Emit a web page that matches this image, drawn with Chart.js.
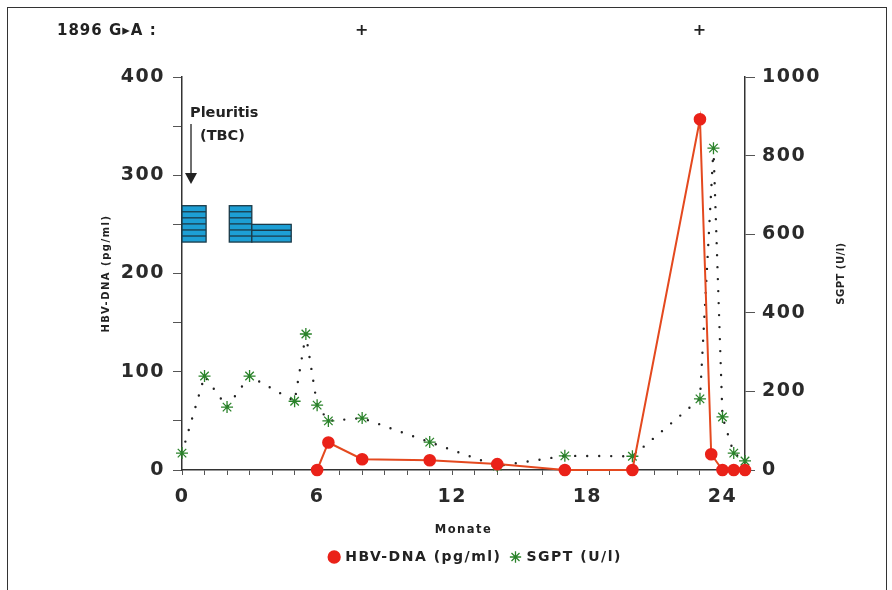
<!DOCTYPE html>
<html><head><meta charset="utf-8">
<script src="https://cdn.jsdelivr.net/npm/chart.js@4"></script>
<style>
html,body{margin:0;padding:0;background:#fff;}
#wrap{position:relative;width:892px;height:590px;overflow:hidden;}
#frame{position:absolute;left:7px;top:7px;width:880px;height:610px;border:1.5px solid #333;box-sizing:border-box;pointer-events:none;}
canvas{position:absolute;left:0;top:0;}
</style></head><body>
<div id="wrap"><canvas id="c" width="892" height="590"></canvas><div id="frame"></div></div>
<script>
// ---- data ----
const hbvMonths = [6, 6.5, 8, 11, 14, 17, 20, 23, 23.5, 24, 24.5, 25];
const hbvValues = [0, 28, 11, 10, 6, 0, 0, 357, 16, 0, 0, 0];
const sgptMonths = [0, 1, 2, 3, 5, 5.5, 6, 6.5, 8, 11, 14, 17, 20, 23, 23.6, 24, 24.5, 25];
const sgptValues = [43, 239, 160, 239, 175, 346, 165, 125, 132, 71, 10, 36, 35, 181, 819, 135, 43, 23];
const xTickLabels = [0, 6, 12, 18, 24];
const leftTickLabels = [0, 100, 200, 300, 400];
const rightTickLabels = [0, 200, 400, 600, 800, 1000];
const plusMonths = [8, 23];
const mutationLabel = '1896 G\u25B8A :';
const treatStart = [0, 2.1, 3.1];
const treatEnd = [1.07, 3.1, 4.85];
const treatHigh = [269, 269, 250];
const treatLow = [232, 232, 232];
const pleuritisMonth = 0.4;
const pleuritisTip = 291;
const pleuritisLines = ['Pleuritis', '(TBC)'];

const FONT = '"DejaVu Sans", sans-serif';

const annot = {
  id: 'annot',
  beforeUpdate(chart){ chart.ctx.letterSpacing = '1.5px'; },
  beforeDraw(chart){ chart.ctx.letterSpacing = '1.5px'; },
  beforeDatasetsDraw(chart){
    const ctx = chart.ctx, xs = chart.scales.x, ys = chart.scales.y;
    ctx.save();
    for (let i = 0; i < treatStart.length; i++) {
      const x0 = xs.getPixelForValue(treatStart[i]), x1 = xs.getPixelForValue(treatEnd[i]);
      const y0 = ys.getPixelForValue(treatHigh[i]), y1 = ys.getPixelForValue(treatLow[i]);
      ctx.fillStyle = '#1d9fd5';
      ctx.fillRect(x0, y0, x1 - x0, y1 - y0);
      ctx.strokeStyle = '#1b3a48';
      ctx.lineWidth = 1.3;
      const n = Math.round((y1 - y0) / 6);
      for (let k = 1; k < n; k++) {
        const yy = y0 + (y1 - y0) * k / n;
        ctx.beginPath(); ctx.moveTo(x0, yy); ctx.lineTo(x1, yy); ctx.stroke();
      }
      ctx.strokeRect(x0, y0, x1 - x0, y1 - y0);
    }
    ctx.restore();
  },
  afterDraw(chart){
    const ctx = chart.ctx, xs = chart.scales.x, ys = chart.scales.y, ca = chart.chartArea;
    ctx.save();
    ctx.letterSpacing = '1px';
    ctx.fillStyle = '#222';
    ctx.textBaseline = 'middle';
    ctx.textAlign = 'left';
    ctx.font = 'bold 15px ' + FONT;
    ctx.fillText(mutationLabel, 57, 31);
    ctx.textAlign = 'center';
    ctx.font = 'bold 16px ' + FONT;
    plusMonths.forEach(m => ctx.fillText('+', xs.getPixelForValue(m), 31));
    // pleuritis annotation
    ctx.letterSpacing = '0px';
    const ax = xs.getPixelForValue(pleuritisMonth);
    const tip = ys.getPixelForValue(pleuritisTip);
    ctx.font = 'bold 14.5px ' + FONT;
    ctx.textAlign = 'left';
    ctx.fillText(pleuritisLines[0], ax - 1, tip - 71);
    ctx.fillText(pleuritisLines[1], ax + 9, tip - 48);
    ctx.strokeStyle = '#222'; ctx.lineWidth = 1.3;
    ctx.beginPath(); ctx.moveTo(ax, tip - 60); ctx.lineTo(ax, tip - 8); ctx.stroke();
    ctx.beginPath(); ctx.moveTo(ax - 6, tip - 11); ctx.lineTo(ax + 6, tip - 11); ctx.lineTo(ax, tip); ctx.closePath(); ctx.fill();
    // right axis title (reads upward)
    ctx.letterSpacing = '0.5px';
    ctx.font = 'bold 10px ' + FONT;
    ctx.translate(841, (ca.top + ca.bottom) / 2);
    ctx.rotate(-Math.PI / 2);
    ctx.textAlign = 'center';
    ctx.fillText('SGPT (U/l)', 0, 0);
    ctx.restore();
  }
};

new Chart(document.getElementById('c'), {
  type: 'line',
  data: {
    datasets: [
      {
        label: 'HBV-DNA (pg/ml)',
        data: hbvMonths.map((m, i) => ({x: m, y: hbvValues[i]})),
        yAxisID: 'y',
        borderColor: '#e4491f',
        borderWidth: 2,
        pointStyle: 'circle',
        pointRadius: 5.3,
        pointBackgroundColor: '#ea2219',
        pointBorderColor: '#ea2219',
        tension: 0,
        clip: false
      },
      {
        label: 'SGPT (U/l)',
        data: sgptMonths.map((m, i) => ({x: m, y: sgptValues[i]})),
        yAxisID: 'y1',
        borderColor: '#222',
        borderWidth: 2.4,
        borderDash: [0, 12],
        borderCapStyle: 'round',
        pointStyle: 'star',
        pointRadius: 6,
        pointBorderWidth: 1.3,
        pointBorderColor: '#2a832a',
        pointBackgroundColor: '#2a832a',
        tension: 0,
        clip: false
      }
    ]
  },
  options: {
    responsive: false,
    animation: false,
    events: [],
    layout: { padding: { left: 100, right: 40, top: 77, bottom: 16 } },
    plugins: {
      tooltip: { enabled: false },
      legend: {
        position: 'bottom',
        labels: {
          usePointStyle: true,
          boxWidth: 8, boxHeight: 8,
          padding: 10,
          color: '#222',
          font: { family: FONT, size: 14, weight: 'bold' }
        }
      }
    },
    scales: {
      x: {
        type: 'linear', min: 0, max: 25,
        afterFit(s){ s.height = 70; },
        ticks: {
          stepSize: 1, autoSkip: false, maxRotation: 0, padding: 11,
          color: '#2a2a2a',
          font: { family: FONT, size: 19, weight: 'bold' },
          callback: v => xTickLabels.includes(v) ? String(v) : ''
        },
        grid: { drawOnChartArea: false, drawTicks: true, tickLength: 5, color: '#555' },
        border: { display: true, color: '#333', width: 1.5 },
        title: { display: true, text: 'Monate', color: '#222', padding: { top: 0, bottom: 3 },
                 font: { family: FONT, size: 11.5, weight: 'bold' } }
      },
      y: {
        type: 'linear', position: 'left', min: 0, max: 400,
        afterFit(s){ s.width = 82; },
        ticks: {
          stepSize: 50, autoSkip: false, padding: 8, color: '#2a2a2a',
          font: { family: FONT, size: 19, weight: 'bold' },
          callback: v => leftTickLabels.includes(v) ? String(v) : ''
        },
        grid: { drawOnChartArea: false, drawTicks: true, tickLength: 9, color: '#555' },
        border: { display: true, color: '#333', width: 1.5 },
        title: { display: true, text: 'HBV-DNA (pg/ml)', color: '#222', padding: { top: 0, bottom: 0 },
                 font: { family: FONT, size: 10, weight: 'bold' } }
      },
      y1: {
        type: 'linear', position: 'right', min: 0, max: 1000,
        afterFit(s){ s.width = 107; },
        ticks: {
          stepSize: 200, autoSkip: false, padding: 7, color: '#2a2a2a',
          font: { family: FONT, size: 19, weight: 'bold' },
          callback: v => rightTickLabels.includes(v) ? String(v) : ''
        },
        grid: { drawOnChartArea: false, drawTicks: true, tickLength: 10, color: '#555' },
        border: { display: true, color: '#333', width: 1.5 }
      }
    }
  },
  plugins: [annot]
});
</script>
</body></html>
